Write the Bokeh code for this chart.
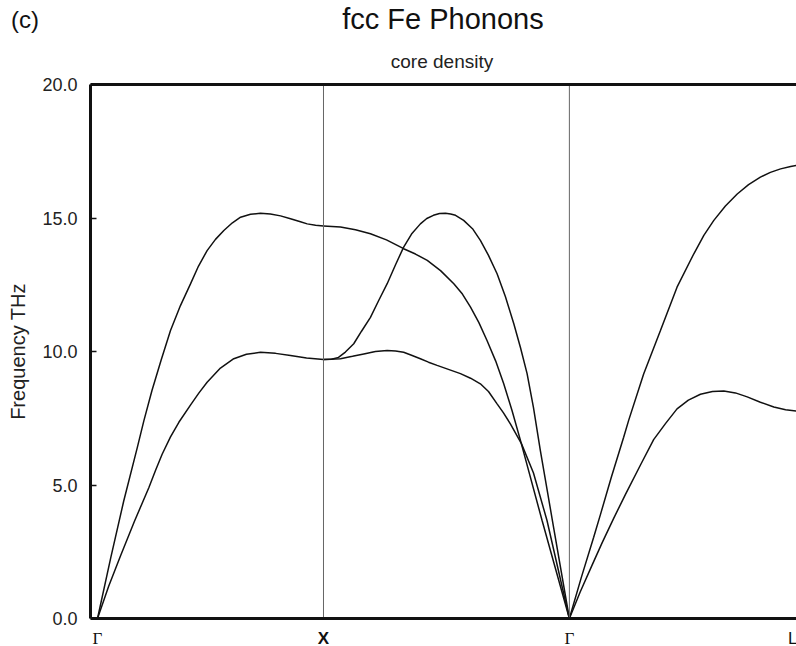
from bokeh.plotting import figure
from bokeh.layouts import column
from bokeh.models import (LinearAxis, FixedTicker, Range1d, Label, Div,
                          PrintfTickFormatter)
from bokeh.embed import file_html
from bokeh.resources import INLINE

# ---- data -------------------------------------------------------------
panel_letter = "(c)"
title_text = "fcc Fe Phonons"
subtitle_text = "core density"
y_label = "Frequency THz"

# high-symmetry points along the path (path coordinate, Gamma-X = 1)
sym_labels = ["Γ", "X", "Γ", "L"]
sym_pos = [0.0, 1.0, 2.088, 3.093]

# branch data: t = fractional position inside a path segment, f = frequency (THz)
# segment 0: Gamma -> X
gx_upper_t = [0, 0.058, 0.116, 0.176, 0.205, 0.241, 0.281, 0.323, 0.367, 0.412, 0.447,
              0.485, 0.522, 0.559, 0.597, 0.633, 0.677, 0.721, 0.765, 0.810, 0.854,
              0.898, 0.928, 0.965, 1.0]
gx_upper_f = [0, 2.25, 4.4, 6.4, 7.4, 8.54, 9.66, 10.79, 11.72, 12.54, 13.2,
              13.78, 14.2, 14.53, 14.82, 15.03, 15.14, 15.18, 15.15, 15.08, 14.97,
              14.86, 14.78, 14.73, 14.70]
gx_lower_t = [0, 0.049, 0.102, 0.164, 0.227, 0.257, 0.286, 0.323, 0.360, 0.412, 0.449,
              0.485, 0.544, 0.603, 0.659, 0.721, 0.788, 0.854, 0.925, 1.0]
gx_lower_f = [0, 1.2, 2.35, 3.65, 4.9, 5.55, 6.15, 6.8, 7.35, 8.0, 8.45,
              8.85, 9.38, 9.73, 9.9, 9.97, 9.93, 9.85, 9.76, 9.70]

# segment 1: X -> Gamma
xg_a_t = [0, 0.069, 0.130, 0.191, 0.256, 0.326, 0.374, 0.422, 0.476, 0.530, 0.565,
          0.598, 0.632, 0.665, 0.700, 0.733, 0.767, 0.801, 0.889, 1.0]
xg_a_f = [14.70, 14.66, 14.56, 14.41, 14.18, 13.85, 13.65, 13.41, 13.03, 12.54, 12.15,
          11.66, 11.08, 10.41, 9.65, 8.79, 7.78, 6.67, 3.67, 0]
xg_b_t = [0, 0.033, 0.061, 0.089, 0.123, 0.154, 0.191, 0.224, 0.259, 0.293, 0.326,
          0.358, 0.394, 0.420, 0.447, 0.472, 0.496, 0.517, 0.537, 0.570, 0.606,
          0.638, 0.671, 0.706, 0.740, 0.774, 0.801, 0.828, 0.854, 0.882, 0.931, 1.0]
xg_b_f = [9.70, 9.71, 9.78, 9.98, 10.29, 10.75, 11.28, 11.9, 12.54, 13.25, 13.91,
          14.4, 14.78, 14.98, 15.1, 15.17, 15.18, 15.15, 15.1, 14.91, 14.6,
          14.16, 13.6, 12.91, 12.05, 11.04, 10.15, 9.17, 7.9, 6.29, 3.67, 0]
xg_c_t = [0, 0.069, 0.118, 0.164, 0.211, 0.259, 0.293, 0.326, 0.358, 0.394, 0.427,
          0.462, 0.508, 0.557, 0.598, 0.638, 0.671, 0.706, 0.732, 0.760, 0.805,
          0.854, 0.909, 1.0]
xg_c_f = [9.70, 9.73, 9.82, 9.91, 10.0, 10.04, 10.02, 9.97, 9.86, 9.73, 9.6,
          9.48, 9.33, 9.17, 9.0, 8.79, 8.5, 8.04, 7.7, 7.29, 6.55,
          5.45, 3.67, 0]

# segment 2: Gamma -> L
gl_upper_t = [0, 0.053, 0.107, 0.137, 0.185, 0.239, 0.261, 0.327, 0.401, 0.474, 0.548,
              0.592, 0.636, 0.687, 0.739, 0.789, 0.841, 0.885, 0.930, 0.974, 1.0]
gl_upper_f = [0, 1.55, 3.04, 3.9, 5.3, 6.79, 7.42, 9.16, 10.79, 12.41, 13.66,
              14.35, 14.91, 15.45, 15.90, 16.25, 16.53, 16.71, 16.84, 16.93, 16.97]
gl_lower_t = [0, 0.048, 0.100, 0.145, 0.195, 0.247, 0.313, 0.371, 0.423, 0.474, 0.524,
              0.577, 0.630, 0.680, 0.731, 0.783, 0.841, 0.900, 0.952, 1.0]
gl_lower_f = [0, 1.0, 2.0, 2.85, 3.75, 4.65, 5.75, 6.7, 7.3, 7.85, 8.18,
              8.40, 8.50, 8.52, 8.45, 8.30, 8.10, 7.92, 7.82, 7.77]

branches = [
    (0, gx_upper_t, gx_upper_f), (0, gx_lower_t, gx_lower_f),
    (1, xg_a_t, xg_a_f), (1, xg_b_t, xg_b_f), (1, xg_c_t, xg_c_f),
    (2, gl_upper_t, gl_upper_f), (2, gl_lower_t, gl_lower_f),
]

y_ticks = [0, 5, 10, 15, 20]
f_min, f_max = 0, 20

# ---- styling ----------------------------------------------------------
FONT = "Liberation Sans"
INK = "#111111"
W = 796
HEAD_H, MAIN_H, FOOT_H = 74, 554, 18
x_start, x_end = -0.031, sym_pos[-1]


def bare(fig):
    fig.grid.visible = False
    fig.outline_line_color = None
    fig.background_fill_color = "white"
    fig.border_fill_color = "white"


# header: panel letter, title, subtitle
span = ("position:absolute;white-space:nowrap;line-height:1;"
        "font-family:'Liberation Sans',Arial,sans-serif;color:#111;")
head_html = (
    f'<div style="position:relative;width:{W}px;height:{HEAD_H}px;'
    f'background:white;overflow:hidden;">'
    f'<span style="{span}left:11px;top:8px;font-size:24px;">{panel_letter}</span>'
    f'<span style="{span}left:443px;top:5px;font-size:29px;'
    f'transform:translateX(-50%);">{title_text}</span>'
    f'<span style="{span}left:442px;top:52px;font-size:19px;color:#222;'
    f'transform:translateX(-50%);">{subtitle_text}</span>'
    f'</div>'
)
head = Div(text=head_html, width=W, height=HEAD_H, margin=(0, 0, 0, 0))

# main plot
p = figure(width=W, height=MAIN_H, output_backend="svg", toolbar_location=None,
           x_range=Range1d(x_start, x_end), y_range=Range1d(f_min, f_max),
           x_axis_location=None, y_axis_location=None,
           min_border_left=90, min_border_right=0, min_border_top=10,
           min_border_bottom=10)
bare(p)

for seg, ts, fs in branches:
    a, b = sym_pos[seg], sym_pos[seg + 1]
    ks = [a + t * (b - a) for t in ts]
    p.line(ks, fs, line_color=INK, line_width=1.5)

inner = sym_pos[1:3]
p.segment(x0=inner, y0=[f_min] * len(inner), x1=inner, y1=[f_max] * len(inner),
          line_color="#666666", line_width=1)

yax = LinearAxis(ticker=FixedTicker(ticks=y_ticks),
                 formatter=PrintfTickFormatter(format="%.1f"))
yax.axis_line_width = 3
yax.axis_line_color = INK
yax.major_tick_in = 6
yax.major_tick_out = 0
yax.major_tick_line_width = 1.5
yax.major_tick_line_color = INK
yax.minor_tick_line_color = None
yax.major_label_standoff = 13
yax.major_label_text_font = FONT
yax.major_label_text_font_size = "18px"
yax.major_label_text_color = "#222222"
yax.axis_label = y_label
yax.axis_label_text_font = FONT
yax.axis_label_text_font_size = "20px"
yax.axis_label_text_font_style = "normal"
yax.axis_label_text_color = "#222222"
yax.axis_label_standoff = 10
p.add_layout(yax, "left")

for loc in ("below", "above"):
    ax = LinearAxis(ticker=FixedTicker(ticks=[]))
    ax.axis_line_width = 3
    ax.axis_line_color = INK
    ax.major_tick_line_color = None
    ax.minor_tick_line_color = None
    p.add_layout(ax, loc)

# footer: high-symmetry point labels, on the same x scale as the plot
foot = figure(width=W, height=FOOT_H, output_backend="svg", toolbar_location=None,
              x_range=p.x_range, y_range=Range1d(0, FOOT_H),
              x_axis_location=None, y_axis_location=None,
              min_border_left=90, min_border_right=0, min_border_top=0,
              min_border_bottom=0)
bare(foot)
last = len(sym_labels) - 1
for i, (lab, k) in enumerate(zip(sym_labels, sym_pos)):
    if lab == "Γ":
        font, style = "Liberation Serif", "normal"
    elif lab == "X":
        font, style = FONT, "bold"
    else:
        font, style = FONT, "normal"
    foot.add_layout(Label(x=k, y=FOOT_H, x_offset=(1 if i == last else 0),
                          text=lab, text_font=font,
                          text_font_style=style, text_font_size="17px",
                          text_color=INK,
                          text_align=("right" if i == last else "center"),
                          text_baseline="top"))

layout = column(head, p, foot, spacing=0)
open("out.html", "w").write(file_html(layout, INLINE))
